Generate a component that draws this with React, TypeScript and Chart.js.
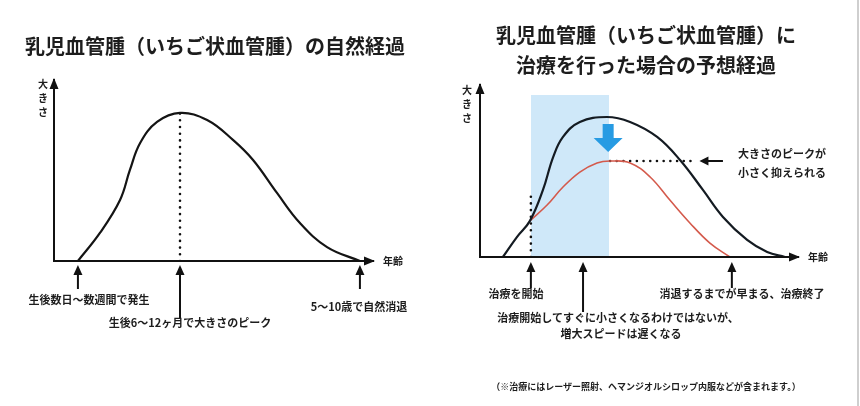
import React, { useEffect, useRef } from 'react';
import { Chart, registerables } from 'chart.js';

Chart.register(...registerables);

// ---------- data (abstract units: age 0..100, size 0..100) ----------
const LEFT_AGE = [7.5, 14.4, 20.7, 23.8, 27.0, 32.3, 39.5, 48.0, 56.1, 62.4, 69.9, 77.1, 85.6, 95.9];
const LEFT_SIZE = [0, 15.5, 33.7, 50.3, 65.2, 76.8, 81.8, 77.9, 66.9, 55.8, 37.6, 21.0, 7.7, 0];
const LEFT_PEAK_AGE = 39.5;
const LEFT_PEAK_SIZE = 81.8;
const LEFT_MARK_AGES = [7.5, 39.5, 95.9];

const NAT_AGE = [7.2, 11.6, 15.7, 19.8, 23.0, 26.1, 31.4, 39.9, 47.2, 55.7, 62.9, 70.1, 76.4, 84.0, 90.3, 95.9];
const NAT_SIZE = [0, 11.6, 21.0, 39.0, 58.1, 69.8, 78.5, 81.4, 78.5, 69.8, 56.4, 39.0, 23.3, 9.9, 2.9, 0];
const TREAT_AGE = [15.7, 21.1, 26.1, 31.4, 36.8, 40.9, 47.2, 53.5, 59.7, 66.0, 72.3, 78.6];
const TREAT_SIZE = [21.0, 30.2, 40.7, 49.4, 54.7, 55.8, 54.7, 46.5, 33.1, 19.8, 8.1, 0];
const TREAT_START = 16.0;
const TREAT_END = 40.6;
const TREAT_TOP = 94.2;
const TREAT_DOT_TOP = 36.0;
const RED_PEAK_AGE = 40.9;
const RED_PEAK_SIZE = 55.8;
const PEAK_DOT_END = 67.8;
const POINTER_FROM = 76.4;
const DOWN_ARROW_AGE = 40.3;
const DOWN_ARROW_TOP = 77.3;
const DOWN_ARROW_TIP = 61.0;
const RIGHT_MARK_AGES = [16.0, 32.4, 79.2];

const FONT = '"Noto Sans CJK JP", "Noto Sans", sans-serif';

const pts = (xs: number[], ys: number[]) => xs.map((x, i) => ({ x, y: ys[i] }));

const annotPlugin = {
  id: 'annot',
  afterDraw(chart: any, _args: any, opts: any) {
    const { ctx, chartArea, scales } = chart;
    const xs = scales.x;
    const ys = scales.y;
    ctx.save();
    ctx.fillStyle = '#111';
    ctx.strokeStyle = '#111';
    const ax = chartArea.left;
    ctx.beginPath();
    ctx.moveTo(ax, chartArea.top - 2);
    ctx.lineTo(ax - 4.5, chartArea.top + 9);
    ctx.lineTo(ax + 4.5, chartArea.top + 9);
    ctx.closePath();
    ctx.fill();
    const by = chartArea.bottom;
    ctx.beginPath();
    ctx.moveTo(chartArea.right + 2, by);
    ctx.lineTo(chartArea.right - 9, by - 4.5);
    ctx.lineTo(chartArea.right - 9, by + 4.5);
    ctx.closePath();
    ctx.fill();
    for (const a of opts.upArrows || []) {
      const px = xs.getPixelForValue(a.x);
      const tip = by + a.gap;
      ctx.lineWidth = 2;
      ctx.beginPath();
      ctx.moveTo(px, tip + 6);
      ctx.lineTo(px, tip + a.len);
      ctx.stroke();
      ctx.beginPath();
      ctx.moveTo(px, tip);
      ctx.lineTo(px - 4.5, tip + 10);
      ctx.lineTo(px + 4.5, tip + 10);
      ctx.closePath();
      ctx.fill();
    }
    if (opts.leftArrow) {
      const l = opts.leftArrow;
      const x1 = xs.getPixelForValue(l.from);
      const x2 = xs.getPixelForValue(l.to);
      const y = ys.getPixelForValue(l.y);
      ctx.lineWidth = 2;
      ctx.beginPath();
      ctx.moveTo(x1, y);
      ctx.lineTo(x2 + 6, y);
      ctx.stroke();
      ctx.beginPath();
      ctx.moveTo(x2, y);
      ctx.lineTo(x2 + 9, y - 4.5);
      ctx.lineTo(x2 + 9, y + 4.5);
      ctx.closePath();
      ctx.fill();
    }
    if (opts.downArrow) {
      const d = opts.downArrow;
      const px = xs.getPixelForValue(d.x);
      const top = ys.getPixelForValue(d.top);
      const tip = ys.getPixelForValue(d.tip);
      const headH = 14;
      ctx.fillStyle = '#279be3';
      ctx.beginPath();
      ctx.moveTo(px - 5.5, top);
      ctx.lineTo(px + 5.5, top);
      ctx.lineTo(px + 5.5, tip - headH);
      ctx.lineTo(px + 14.5, tip - headH);
      ctx.lineTo(px, tip);
      ctx.lineTo(px - 14.5, tip - headH);
      ctx.lineTo(px - 5.5, tip - headH);
      ctx.closePath();
      ctx.fill();
    }
    ctx.restore();
  },
};

const axisScale = () => ({
  type: 'linear' as const,
  min: 0,
  max: 100,
  grid: { display: false, drawTicks: false },
  ticks: { display: false },
  border: { display: true, color: '#111', width: 2, z: 1 },
});

const baseOptions = (padding: any, annot: any) => ({
  responsive: false,
  animation: false as const,
  events: [] as any[],
  layout: { padding },
  plugins: {
    legend: { display: false },
    tooltip: { enabled: false },
    title: { display: false },
    annot,
  },
  scales: { x: axisScale(), y: axisScale() },
});

const curve = (data: any[], color: string, width: number) => ({
  data,
  borderColor: color,
  borderWidth: width,
  pointRadius: 0,
  fill: false,
  tension: 0.4,
  order: 1,
});

const dotted = (data: any[]) => ({
  data,
  borderColor: '#111',
  borderWidth: 2.6,
  borderDash: [0, 6.7],
  borderCapStyle: 'round' as const,
  pointRadius: 0,
  fill: false,
  tension: 0,
  order: 2,
});

const Label = ({ text, x, y, size, align = 'center', weight = 700 }: any) => (
  <div
    style={{
      position: 'absolute',
      left: x,
      top: y,
      transform: align === 'center' ? 'translate(-50%, -50%)' : 'translate(0, -50%)',
      fontSize: size,
      fontWeight: weight,
      whiteSpace: 'nowrap',
      lineHeight: 1,
      fontFamily: FONT,
      color: '#1d1d1d',
    }}
  >
    {text}
  </div>
);

export default function App() {
  const leftRef = useRef<HTMLCanvasElement>(null);
  const rightRef = useRef<HTMLCanvasElement>(null);

  useEffect(() => {
    const left = new Chart(leftRef.current as HTMLCanvasElement, {
      type: 'line',
      data: {
        datasets: [
          curve(pts(LEFT_AGE, LEFT_SIZE), '#141414', 2.2),
          dotted([
            { x: LEFT_PEAK_AGE, y: 0 },
            { x: LEFT_PEAK_AGE, y: LEFT_PEAK_SIZE },
          ]),
        ],
      },
      options: baseOptions(
        { left: 54, top: 80, right: 57, bottom: 145 },
        {
          upArrows: LEFT_MARK_AGES.map((x, i) => ({ x, gap: 4, len: i === 1 ? 54 : 24 })),
        }
      ) as any,
      plugins: [annotPlugin],
    });

    const right = new Chart(rightRef.current as HTMLCanvasElement, {
      type: 'line',
      data: {
        datasets: [
          {
            data: [
              { x: TREAT_START, y: TREAT_TOP },
              { x: TREAT_END, y: TREAT_TOP },
            ],
            borderWidth: 0,
            borderColor: 'rgba(0,0,0,0)',
            backgroundColor: '#cfe8f9',
            fill: 'origin',
            pointRadius: 0,
            tension: 0,
            order: 10,
          },
          curve(pts(NAT_AGE, NAT_SIZE), '#141b22', 2.2),
          curve(pts(TREAT_AGE, TREAT_SIZE), '#d45a4c', 1.6),
          dotted([
            { x: TREAT_START, y: 0 },
            { x: TREAT_START, y: TREAT_DOT_TOP },
          ]),
          dotted([
            { x: RED_PEAK_AGE, y: RED_PEAK_SIZE },
            { x: PEAK_DOT_END, y: RED_PEAK_SIZE },
          ]),
        ],
      },
      options: baseOptions(
        { left: 50, top: 85, right: 62, bottom: 149 },
        {
          upArrows: RIGHT_MARK_AGES.map((x, i) => ({ x, gap: 5, len: i === 1 ? 50 : 26 })),
          leftArrow: { from: POINTER_FROM, to: PEAK_DOT_END + 1.2, y: RED_PEAK_SIZE },
          downArrow: { x: DOWN_ARROW_AGE, top: DOWN_ARROW_TOP, tip: DOWN_ARROW_TIP },
        }
      ) as any,
      plugins: [annotPlugin],
    });

    return () => {
      left.destroy();
      right.destroy();
    };
  }, []);

  return (
    <div
      style={{
        position: 'absolute',
        left: 0,
        top: 0,
        width: 860,
        height: 406,
        background: '#fff',
        overflow: 'hidden',
        fontFamily: FONT,
      }}
    >
      <canvas ref={leftRef} width={430} height={406} style={{ position: 'absolute', left: 0, top: 0, width: 430, height: 406 }} />
      <canvas ref={rightRef} width={430} height={406} style={{ position: 'absolute', left: 430, top: 0, width: 430, height: 406 }} />
      <div style={{ position: 'absolute', left: 857, top: 0, width: 1.5, height: 406, background: '#cfcfcf' }} />

      <Label text="乳児血管腫（いちご状血管腫）の自然経過" x={215} y={46} size={20} />
      <Label text="大" x={43} y={84} size={10} />
      <Label text="き" x={43} y={98} size={10} />
      <Label text="さ" x={43} y={112} size={10} />
      <Label text="年齢" x={393} y={261} size={10} />
      <Label text="生後数日〜数週間で発生" x={89} y={299} size={11} />
      <Label text="生後6〜12ヶ月で大きさのピーク" x={190} y={322} size={11} />
      <Label text="5〜10歳で自然消退" x={359} y={306} size={11} />

      <Label text="乳児血管腫（いちご状血管腫）に" x={646} y={35} size={20} />
      <Label text="治療を行った場合の予想経過" x={646} y={65} size={20} />
      <Label text="大" x={467} y={90} size={10} />
      <Label text="き" x={467} y={104} size={10} />
      <Label text="さ" x={467} y={118} size={10} />
      <Label text="年齢" x={818} y={257} size={10} />
      <Label text="大きさのピークが" x={738} y={153} size={11} align="left" />
      <Label text="小さく抑えられる" x={738} y={172} size={11} align="left" />
      <Label text="治療を開始" x={516} y={293} size={11} />
      <Label text="消退するまでが早まる、治療終了" x={742} y={293} size={11} />
      <Label text="治療開始してすぐに小さくなるわけではないが、" x={618} y={317} size={11} />
      <Label text="増大スピードは遅くなる" x={621} y={333} size={11} />
      <Label text="（※治療にはレーザー照射、ヘマンジオルシロップ内服などが含まれます。）" x={646} y={386} size={9} />
    </div>
  );
}
